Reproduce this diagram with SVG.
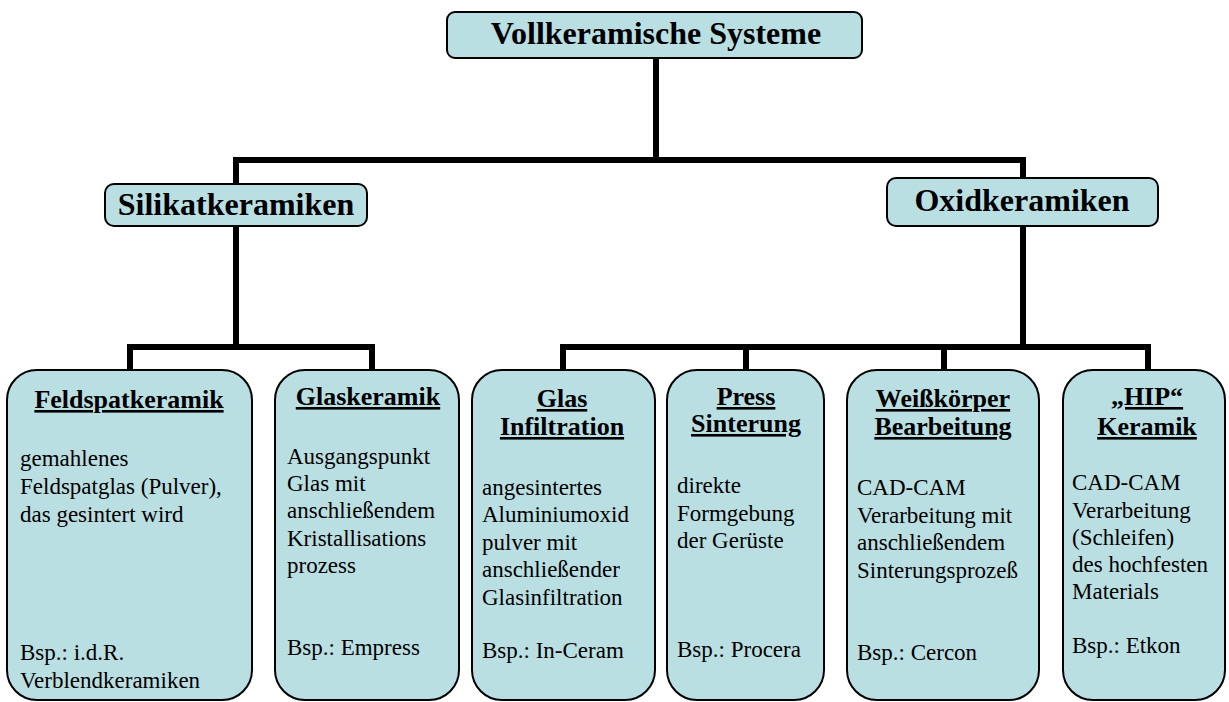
<svg xmlns="http://www.w3.org/2000/svg" width="1229" height="702" viewBox="0 0 1229 702">
<style>
.box{fill:#b9dfe3;stroke:#000;stroke-width:2}
.conn{fill:none;stroke:#000;stroke-width:6;stroke-linejoin:miter}
.h1{font-family:"Liberation Serif","Times New Roman",serif;font-weight:bold;font-size:32px;text-anchor:middle;fill:#000}
.t{font-family:"Liberation Serif","Times New Roman",serif;font-weight:bold;font-size:26px;text-anchor:middle;text-decoration:underline;fill:#000}
.b{font-family:"Liberation Serif","Times New Roman",serif;font-size:23px;fill:#000}
</style>
<rect width="1229" height="702" fill="#fff"/>
<g id="connectors">
<path class="conn" d="M656 58 V160"/>
<path class="conn" d="M236 348 V160 H1023 V348"/>
<path class="conn" d="M130 371 V347 H372 V371"/>
<path class="conn" d="M563 371 V347 H1148 V371"/>
<path class="conn" d="M746 347 V371"/>
<path class="conn" d="M944 347 V371"/>
</g>
<g id="root">
<rect class="box" x="447" y="12" width="415" height="46" rx="8"/>
<text class="h1" x="656" y="44">Vollkeramische Systeme</text>
</g>
<g id="silikat">
<rect class="box" x="105" y="184" width="262" height="42" rx="9"/>
<text class="h1" x="236" y="215">Silikatkeramiken</text>
</g>
<g id="oxid">
<rect class="box" x="887" y="178" width="271" height="48" rx="9"/>
<text class="h1" x="1022" y="211">Oxidkeramiken</text>
</g>
<g id="feldspat">
<rect class="box" x="7" y="370" width="245" height="330" rx="30"/>
<text class="t" x="129" y="408">Feldspatkeramik</text>
<text class="b" x="20" y="466">gemahlenes</text>
<text class="b" x="20" y="494">Feldspatglas (Pulver),</text>
<text class="b" x="20" y="522">das gesintert wird</text>
<text class="b" x="20" y="660">Bsp.: i.d.R.</text>
<text class="b" x="20" y="688">Verblendkeramiken</text>
</g>
<g id="glaskeramik">
<rect class="box" x="275" y="370" width="184" height="330" rx="30"/>
<text class="t" x="368" y="405">Glaskeramik</text>
<text class="b" x="287" y="464">Ausgangspunkt</text>
<text class="b" x="287" y="491">Glas mit</text>
<text class="b" x="287" y="518">anschließendem</text>
<text class="b" x="287" y="546">Kristallisations</text>
<text class="b" x="287" y="573">prozess</text>
<text class="b" x="287" y="655">Bsp.: Empress</text>
</g>
<g id="glasinfiltration">
<rect class="box" x="472" y="370" width="183" height="330" rx="30"/>
<text class="t" x="562" y="407">Glas</text>
<text class="t" x="562" y="435">Infiltration</text>
<text class="b" x="482" y="495">angesintertes</text>
<text class="b" x="482" y="522">Aluminiumoxid</text>
<text class="b" x="482" y="550">pulver mit</text>
<text class="b" x="482" y="577">anschließender</text>
<text class="b" x="482" y="605">Glasinfiltration</text>
<text class="b" x="482" y="658">Bsp.: In-Ceram</text>
</g>
<g id="presssinterung">
<rect class="box" x="667" y="370" width="157" height="330" rx="30"/>
<text class="t" x="746" y="405">Press</text>
<text class="t" x="746" y="432">Sinterung</text>
<text class="b" x="677" y="493">direkte</text>
<text class="b" x="677" y="521">Formgebung</text>
<text class="b" x="677" y="548">der Gerüste</text>
<text class="b" x="677" y="657">Bsp.: Procera</text>
</g>
<g id="weisskoerper">
<rect class="box" x="847" y="370" width="192" height="330" rx="30"/>
<text class="t" x="943" y="407">Weißkörper</text>
<text class="t" x="943" y="435">Bearbeitung</text>
<text class="b" x="857" y="495">CAD-CAM</text>
<text class="b" x="857" y="523">Verarbeitung mit</text>
<text class="b" x="857" y="550">anschließendem</text>
<text class="b" x="857" y="578">Sinterungsprozeß</text>
<text class="b" x="857" y="660">Bsp.: Cercon</text>
</g>
<g id="hip">
<rect class="box" x="1063" y="370" width="162" height="330" rx="30"/>
<text class="t" x="1147" y="405">„HIP“</text>
<text class="t" x="1147" y="435">Keramik</text>
<text class="b" x="1072" y="490">CAD-CAM</text>
<text class="b" x="1072" y="518">Verarbeitung</text>
<text class="b" x="1072" y="545">(Schleifen)</text>
<text class="b" x="1072" y="572">des hochfesten</text>
<text class="b" x="1072" y="599">Materials</text>
<text class="b" x="1072" y="653">Bsp.: Etkon</text>
</g>
</svg>
